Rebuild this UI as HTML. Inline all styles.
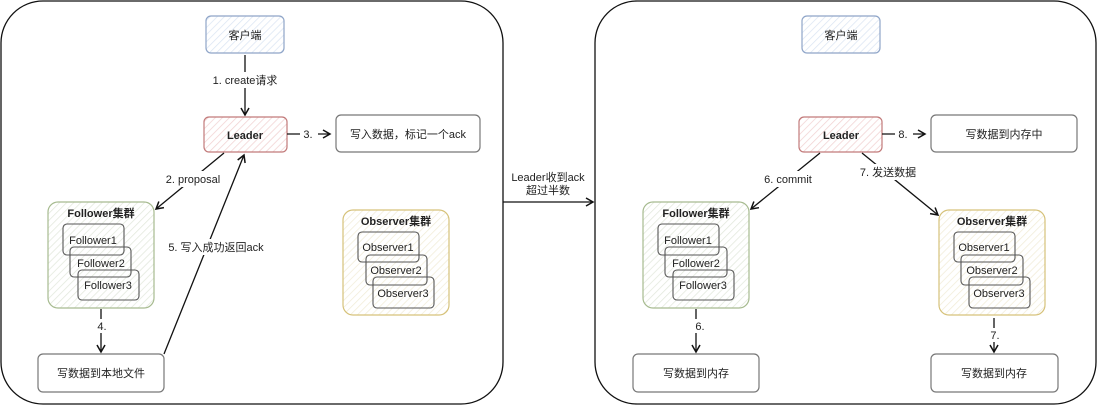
<!DOCTYPE html>
<html><head><meta charset="utf-8"><style>
html,body{margin:0;padding:0;background:#fff;width:1098px;height:405px;overflow:hidden}
text{font-family:"Liberation Sans","Noto Sans CJK SC",sans-serif;font-size:11px;fill:#222}
</style></head><body>
<svg width="1098" height="405" viewBox="0 0 1098 405" xmlns="http://www.w3.org/2000/svg">
<defs>
<pattern id="hb" width="5" height="5" patternUnits="userSpaceOnUse" patternTransform="rotate(45)"><rect width="5" height="5" fill="#fff"/><line x1="0" y1="0" x2="0" y2="5" stroke="#dbe5f3" stroke-width="1.5"/></pattern>
<pattern id="hr" width="5" height="5" patternUnits="userSpaceOnUse" patternTransform="rotate(45)"><rect width="5" height="5" fill="#fff"/><line x1="0" y1="0" x2="0" y2="5" stroke="#f1d2d2" stroke-width="1.5"/></pattern>
<pattern id="hg" width="5" height="5" patternUnits="userSpaceOnUse" patternTransform="rotate(45)"><rect width="5" height="5" fill="#fff"/><line x1="0" y1="0" x2="0" y2="5" stroke="#e2e8dc" stroke-width="1.5"/></pattern>
<pattern id="hy" width="5" height="5" patternUnits="userSpaceOnUse" patternTransform="rotate(45)"><rect width="5" height="5" fill="#fff"/><line x1="0" y1="0" x2="0" y2="5" stroke="#f1ecd8" stroke-width="1.5"/></pattern>
<marker id="a" markerWidth="10" markerHeight="10" refX="8" refY="5" orient="auto" markerUnits="userSpaceOnUse"><path d="M1,1 L8,5 L1,9" fill="none" stroke="#111" stroke-width="1.5"/></marker>
</defs>
<g fill="none" stroke="#111" stroke-width="1.3">
<rect x="1" y="1" width="502" height="403" rx="42"/>
<rect x="595" y="1" width="501" height="403" rx="42"/>
</g>
<!-- left -->
<g stroke-width="1.2">
<rect x="206" y="16" width="78" height="37" rx="5" fill="url(#hb)" stroke="#8fa5c8"/>
<rect x="204" y="117" width="83" height="35" rx="5" fill="url(#hr)" stroke="#c27a7a"/>
<rect x="336" y="115" width="144" height="37" rx="5" fill="#fff" stroke="#777"/>
<rect x="48" y="202" width="106" height="106" rx="10" fill="url(#hg)" stroke="#a7bb90"/>
<rect x="343" y="210" width="106" height="105" rx="10" fill="url(#hy)" stroke="#d6c27a"/>
<rect x="38" y="354" width="126" height="38" rx="5" fill="#fff" stroke="#777"/>
</g>
<g fill="none" stroke="#555" stroke-width="1.1">
<rect x="63" y="224" width="61" height="31" rx="4"/>
<rect x="70" y="247" width="61" height="30" rx="4"/>
<rect x="78" y="270" width="61" height="30" rx="4"/>
<rect x="358" y="232" width="61" height="30" rx="4"/>
<rect x="366" y="255" width="61" height="30" rx="4"/>
<rect x="373" y="277" width="61" height="31" rx="4"/>
</g>
<text x="245" y="39" text-anchor="middle">客户端</text>
<text x="245" y="139" text-anchor="middle" font-weight="bold">Leader</text>
<text x="408" y="138" text-anchor="middle">写入数据，标记一个ack</text>
<text x="101" y="217" text-anchor="middle" font-weight="bold">Follower集群</text>
<text x="93" y="244" text-anchor="middle">Follower1</text>
<text x="101" y="267" text-anchor="middle">Follower2</text>
<text x="108" y="289" text-anchor="middle">Follower3</text>
<text x="396" y="225" text-anchor="middle" font-weight="bold">Observer集群</text>
<text x="388" y="251" text-anchor="middle">Observer1</text>
<text x="396" y="274" text-anchor="middle">Observer2</text>
<text x="403" y="297" text-anchor="middle">Observer3</text>
<text x="101" y="377" text-anchor="middle">写数据到本地文件</text>
<g fill="none" stroke="#111" stroke-width="1.3" marker-end="url(#a)">
<path d="M245 55 L245 115"/>
<path d="M287 134 L330 134"/>
<path d="M224 153 L156 209"/>
<path d="M164 354 L244 155"/>
<path d="M101 309 L101 352"/>
<path d="M503 202 L593 202"/>
</g>
<rect x="207" y="72" width="76" height="16" fill="#fff"/>
<text x="245" y="84" text-anchor="middle">1. create请求</text>
<rect x="300" y="127" width="18" height="14" fill="#fff"/>
<text x="308" y="138" text-anchor="middle">3.</text>
<rect x="165" y="171" width="56" height="16" fill="#fff"/>
<text x="193" y="183" text-anchor="middle">2. proposal</text>
<rect x="168" y="239" width="96" height="16" fill="#fff"/>
<text x="216" y="251" text-anchor="middle">5. 写入成功返回ack</text>
<rect x="95" y="319" width="14" height="14" fill="#fff"/>
<text x="102" y="330" text-anchor="middle">4.</text>
<text x="548" y="181" text-anchor="middle">Leader收到ack</text>
<text x="548" y="194" text-anchor="middle">超过半数</text>
<!-- right -->
<g stroke-width="1.2">
<rect x="802" y="16" width="78" height="37" rx="5" fill="url(#hb)" stroke="#8fa5c8"/>
<rect x="799" y="117" width="83" height="35" rx="5" fill="url(#hr)" stroke="#c27a7a"/>
<rect x="931" y="115" width="146" height="37" rx="5" fill="#fff" stroke="#777"/>
<rect x="643" y="202" width="106" height="106" rx="10" fill="url(#hg)" stroke="#a7bb90"/>
<rect x="939" y="210" width="106" height="105" rx="10" fill="url(#hy)" stroke="#d6c27a"/>
<rect x="633" y="354" width="126" height="38" rx="5" fill="#fff" stroke="#777"/>
<rect x="931" y="354" width="127" height="38" rx="5" fill="#fff" stroke="#777"/>
</g>
<g fill="none" stroke="#555" stroke-width="1.1">
<rect x="658" y="224" width="61" height="31" rx="4"/>
<rect x="665" y="247" width="62" height="30" rx="4"/>
<rect x="673" y="270" width="61" height="30" rx="4"/>
<rect x="954" y="232" width="61" height="30" rx="4"/>
<rect x="961" y="255" width="62" height="30" rx="4"/>
<rect x="969" y="277" width="61" height="31" rx="4"/>
</g>
<text x="841" y="39" text-anchor="middle">客户端</text>
<text x="841" y="139" text-anchor="middle" font-weight="bold">Leader</text>
<text x="1004" y="138" text-anchor="middle">写数据到内存中</text>
<text x="696" y="217" text-anchor="middle" font-weight="bold">Follower集群</text>
<text x="688" y="244" text-anchor="middle">Follower1</text>
<text x="696" y="267" text-anchor="middle">Follower2</text>
<text x="703" y="289" text-anchor="middle">Follower3</text>
<text x="992" y="225" text-anchor="middle" font-weight="bold">Observer集群</text>
<text x="984" y="251" text-anchor="middle">Observer1</text>
<text x="992" y="274" text-anchor="middle">Observer2</text>
<text x="999" y="297" text-anchor="middle">Observer3</text>
<text x="696" y="377" text-anchor="middle">写数据到内存</text>
<text x="994" y="377" text-anchor="middle">写数据到内存</text>
<g fill="none" stroke="#111" stroke-width="1.3" marker-end="url(#a)">
<path d="M882 134 L925 134"/>
<path d="M820 153 L751 209"/>
<path d="M862 153 L938 215"/>
<path d="M696 309 L696 352"/>
<path d="M994 318 L994 352"/>
</g>
<rect x="895" y="127" width="18" height="14" fill="#fff"/>
<text x="903" y="138" text-anchor="middle">8.</text>
<rect x="762" y="171" width="52" height="16" fill="#fff"/>
<text x="788" y="183" text-anchor="middle">6. commit</text>
<rect x="858" y="164" width="60" height="16" fill="#fff"/>
<text x="888" y="176" text-anchor="middle">7. 发送数据</text>
<rect x="693" y="319" width="14" height="14" fill="#fff"/>
<text x="700" y="330" text-anchor="middle">6.</text>
<rect x="988" y="328" width="14" height="14" fill="#fff"/>
<text x="995" y="339" text-anchor="middle">7.</text>
</svg>
</body></html>
